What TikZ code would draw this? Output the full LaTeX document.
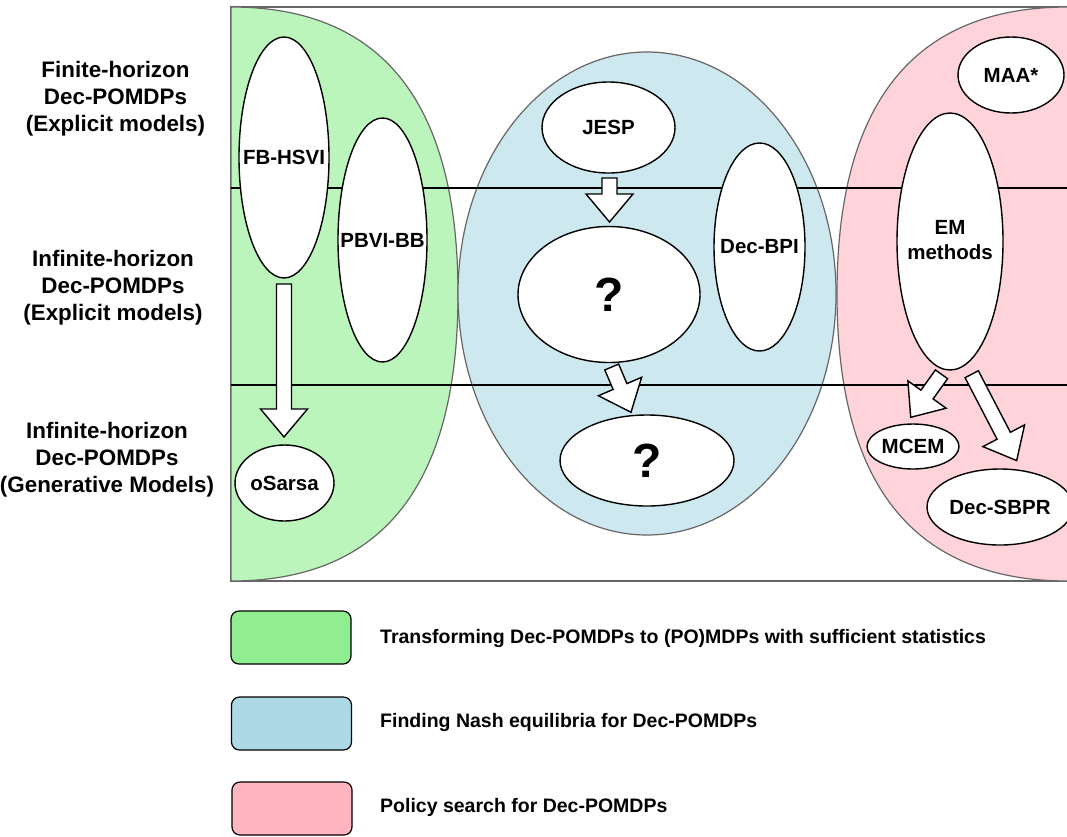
\documentclass[tikz,border=0pt]{standalone}
\usepackage{fontspec}
\setmainfont{Liberation Sans}
\usetikzlibrary{shapes.geometric,calc}
\definecolor{greenreg}{HTML}{BCF5BC}
\definecolor{bluereg}{HTML}{CEE8F0}
\definecolor{pinkreg}{HTML}{FFD3DA}
\definecolor{greenleg}{HTML}{90EE90}
\definecolor{blueleg}{HTML}{ADD8E6}
\definecolor{pinkleg}{HTML}{FFB6C1}
\definecolor{edgegray}{HTML}{666666}
\newcommand{\blockarr}[2]{%
  \path let \p1=(#1), \p2=(#2) in
    \pgfextra{\pgfmathsetmacro{\arrang}{atan2(\y2-\y1,\x2-\x1)}%
      \pgfmathsetmacro{\arrlen}{veclen(\x2-\x1,\y2-\y1)}%
      \global\let\arrangG\arrang\global\let\arrlenG\arrlen};
  \begin{scope}[shift={(#1)}, rotate=\arrangG]
    \draw[barrow] (0pt,-7.5pt) -- ({\arrlenG pt-28pt},-7.5pt) -- ({\arrlenG pt-28pt},-23.5pt)
      -- ({\arrlenG pt},0pt) -- ({\arrlenG pt-28pt},23.5pt) -- ({\arrlenG pt-28pt},7.5pt)
      -- (0pt,7.5pt) -- cycle;
  \end{scope}}
\begin{document}
\begin{tikzpicture}[x=1pt,y=-1pt,
  region/.style={draw=edgegray, line width=1.2pt},
  rowline/.style={draw=black, line width=1.4pt},
  elli/.style={ellipse, draw=black, line width=1.4pt, fill=white, inner sep=0pt, outer sep=0pt,
    font=\fontsize{20.5}{25}\selectfont\bfseries},
  qelli/.style={elli, font=\fontsize{48}{50}\selectfont\bfseries},
  barrow/.style={draw=black, fill=white, line width=1.4pt, line join=miter},
  sidelbl/.style={align=center, inner sep=0pt, font=\fontsize{22.4}{27}\selectfont\bfseries},
  legbox/.style={draw=black, line width=1.2pt, rounded corners=8pt, minimum width=120pt, minimum height=53pt, inner sep=0pt},
  legtxt/.style={anchor=west, inner sep=0pt, font=\fontsize{19.5}{23}\selectfont\bfseries}]
\fill[white] (0,0) rectangle (1067,836);
\useasboundingbox (0,0) rectangle (1067,836);
% outer frame
\draw[region, fill=white] (231,7) rectangle (1085,581);
% regions
\draw[region, fill=greenreg] (231,7) .. controls (382.3,7) and (458,102.7) .. (458,294)
  .. controls (458,485.3) and (382.3,581) .. (231,581) -- cycle;
\draw[region, fill=bluereg] (647,293.5) ellipse [x radius=189, y radius=241.5];
\draw[region, fill=pinkreg] (1068,7) .. controls (914,7) and (837,102.7) .. (837,294)
  .. controls (837,485.3) and (914,581) .. (1068,581) -- cycle;
% row separators
\draw[rowline] (231,188) -- (1085,188);
\draw[rowline] (231,385) -- (1085,385);
% methods
\node[elli, minimum width=90pt, minimum height=241pt] (fb) at (284,157.5) {\makebox[0pt]{FB-HSVI}};
\node[elli, minimum width=89pt, minimum height=244pt] (pbvi) at (382.5,240) {\makebox[0pt]{PBVI-BB}};
\node[elli, minimum width=99pt, minimum height=76pt] (osarsa) at (284.5,483) {\makebox[0pt]{oSarsa}};
\node[elli, minimum width=133pt, minimum height=91pt] (jesp) at (608.5,127.5) {\makebox[0pt]{JESP}};
\node[qelli, minimum width=182pt, minimum height=136pt] (q1) at (609,294.5) {\makebox[0pt]{?}};
\node[elli, minimum width=91pt, minimum height=208pt] (decbpi) at (759.5,247) {\makebox[0pt]{Dec-BPI}};
\node[qelli, minimum width=174pt, minimum height=91pt] (q2) at (647,460.5) {\makebox[0pt]{?}};
\node[elli, minimum width=106pt, minimum height=76pt] (maa) at (1011,75) {\makebox[0pt]{MAA*}};
\node[elli, minimum width=106pt, minimum height=257pt] (em) at (950,241.5)
  {\makebox[0pt]{\begin{tabular}{@{}c@{}}EM\\methods\end{tabular}}};
\node[elli, minimum width=92pt, minimum height=45pt] (mcem) at (913,446.5) {\makebox[0pt]{MCEM}};
\node[elli, minimum width=146pt, minimum height=76pt] (decsbpr) at (1000,507) {\makebox[0pt]{Dec-SBPR}};
% block arrows
\coordinate (a1s) at (284,284);     \coordinate (a1e) at (284,437);
\coordinate (a2s) at (609.5,178);   \coordinate (a2e) at (609.5,222);
\coordinate (a3s) at (611.7,367);   \coordinate (a3e) at (631,412.3);
\coordinate (a4s) at (941.5,374.3); \coordinate (a4e) at (910.7,417.3);
\coordinate (a5s) at (971.7,374.2); \coordinate (a5e) at (1016.7,460.7);
\blockarr{a1s}{a1e}
\blockarr{a2s}{a2e}
\blockarr{a3s}{a3e}
\blockarr{a4s}{a4e}
\blockarr{a5s}{a5e}
% row labels
\node[sidelbl] (row1) at (115.5,99) {Finite-horizon\\Dec-POMDPs\\(Explicit models)};
\node[sidelbl] (row2) at (113,288) {Infinite-horizon\\Dec-POMDPs\\(Explicit models)};
\node[sidelbl] (row3) at (107,460) {Infinite-horizon\\Dec-POMDPs\\(Generative Models)};
% legend
\node[legbox, fill=greenleg] (lg1) at (291,637.5) {};
\node[legbox, fill=blueleg] (lg2) at (291.5,723.5) {};
\node[legbox, fill=pinkleg] (lg3) at (292,808.5) {};
\node[legtxt] (lt1) at (380,638) {Transforming Dec-POMDPs to (PO)MDPs with sufficient statistics};
\node[legtxt] (lt2) at (380,722) {Finding Nash equilibria for Dec-POMDPs};
\node[legtxt] (lt3) at (380,807) {Policy search for Dec-POMDPs};
\end{tikzpicture}
\end{document}
